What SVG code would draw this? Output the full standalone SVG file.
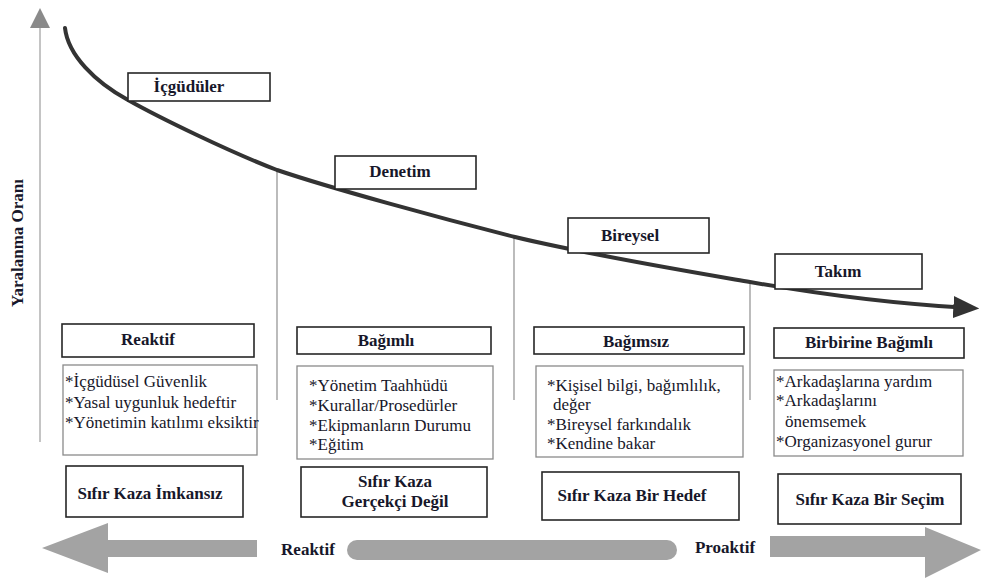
<svg xmlns="http://www.w3.org/2000/svg" width="981" height="579" viewBox="0 0 981 579">
<style>
  .bg{fill:#ffffff}
  .title{fill:#ffffff;stroke:#262626;stroke-width:1.6}
  .content{fill:#ffffff;stroke:#8a8a8a;stroke-width:1.3}
  .b{font-weight:bold;font-size:17px;fill:#17172a}
  .r{font-size:17px;fill:#17172a}
  .mid{text-anchor:middle}
  .div{stroke:#ababab;stroke-width:1.6;fill:none}
  .band{fill:#a3a3a3}
</style>
<defs>
  <marker id="curveHead" markerWidth="6.5" markerHeight="5.5" refX="4" refY="5" orient="auto" markerUnits="strokeWidth" viewBox="0 0 12 10" preserveAspectRatio="none">
    <path d="M0,0 L12,5 L0,10 Z" fill="#333333"/>
  </marker>
  <marker id="axisHead" markerWidth="10" markerHeight="10" refX="5" refY="5" orient="auto" viewBox="0 0 10 10">
    <path d="M0,0 L10,5 L0,10 Z" fill="#8a8a8a"/>
  </marker>
</defs>
<rect class="bg" x="0" y="0" width="981" height="579"/>

<g id="connectors">
  <line x1="40" y1="442" x2="40" y2="18" stroke="#c4c4c4" stroke-width="2" marker-end="url(#axisHead)"/>
  <line class="div" x1="277" y1="170" x2="277" y2="400"/>
  <line class="div" x1="514" y1="237" x2="514" y2="400"/>
  <line class="div" x1="750" y1="282" x2="750" y2="400"/>
  <path d="M65,28 C68,55 95,82 128,100 C160,118 230,152 277,170 C330,188 440,218 515,237 C590,255 680,270 750,282 C830,296 900,304 962,307.5" fill="none" stroke="#333333" stroke-width="4" stroke-linecap="round" marker-end="url(#curveHead)"/>
</g>

<g font-family="Liberation Serif, serif">
<g id="y-label">
  <text class="b mid" transform="translate(23,243) rotate(-90)">Yaralanma Oranı</text>
</g>

<g id="icguduler">
  <rect class="title" x="128" y="73" width="142" height="28"/>
  <text class="b mid" x="189" y="92">İçgüdüler</text>
</g>
<g id="denetim">
  <rect class="title" x="335" y="156" width="141" height="33"/>
  <text class="b mid" x="400" y="177">Denetim</text>
</g>
<g id="bireysel">
  <rect class="title" x="568" y="218" width="141" height="35"/>
  <text class="b mid" x="630" y="241">Bireysel</text>
</g>
<g id="takim">
  <rect class="title" x="775" y="254" width="147" height="35"/>
  <text class="b mid" x="838" y="277">Takım</text>
</g>

<g id="reaktif">
  <rect class="title" x="62" y="324" width="192" height="33"/>
  <text class="b mid" x="148" y="345">Reaktif</text>
</g>
<g id="reaktif-list">
  <rect class="content" x="63" y="365" width="194" height="90"/>
  <text class="r" x="65" y="387">*İçgüdüsel Güvenlik</text>
  <text class="r" x="65" y="408">*Yasal uygunluk hedeftir</text>
  <text class="r" x="65" y="428">*Yönetimin katılımı eksiktir</text>
</g>
<g id="reaktif-goal">
  <rect class="title" x="66" y="466" width="177" height="51"/>
  <text class="b mid" x="150" y="499">Sıfır Kaza İmkansız</text>
</g>

<g id="bagimli">
  <rect class="title" x="297" y="327" width="194" height="27"/>
  <text class="b mid" x="386" y="346">Bağımlı</text>
</g>
<g id="bagimli-list">
  <rect class="content" x="297" y="366" width="196" height="93"/>
  <text class="r" x="309" y="391">*Yönetim Taahhüdü</text>
  <text class="r" x="309" y="411">*Kurallar/Prosedürler</text>
  <text class="r" x="309" y="431">*Ekipmanların Durumu</text>
  <text class="r" x="309" y="450">*Eğitim</text>
</g>
<g id="bagimli-goal">
  <rect class="title" x="301" y="467" width="186" height="50"/>
  <text class="b mid" x="395" y="487">Sıfır Kaza</text>
  <text class="b mid" x="395" y="507">Gerçekçi Değil</text>
</g>

<g id="bagimsiz">
  <rect class="title" x="534" y="327" width="210" height="27"/>
  <text class="b mid" x="636" y="347">Bağımsız</text>
</g>
<g id="bagimsiz-list">
  <rect class="content" x="536" y="366" width="207" height="91"/>
  <text class="r" x="547" y="391">*Kişisel bilgi, bağımlılık,</text>
  <text class="r" x="553" y="410">değer</text>
  <text class="r" x="547" y="430">*Bireysel farkındalık</text>
  <text class="r" x="547" y="449">*Kendine bakar</text>
</g>
<g id="bagimsiz-goal">
  <rect class="title" x="542" y="472" width="197" height="48"/>
  <text class="b mid" x="632" y="501">Sıfır Kaza Bir Hedef</text>
</g>

<g id="birbirine">
  <rect class="title" x="774" y="328" width="190" height="30"/>
  <text class="b mid" x="869" y="348">Birbirine Bağımlı</text>
</g>
<g id="birbirine-list">
  <rect class="content" x="774" y="370" width="189" height="86"/>
  <text class="r" x="776" y="387">*Arkadaşlarına yardım</text>
  <text class="r" x="776" y="406">*Arkadaşlarını</text>
  <text class="r" x="785" y="427">önemsemek</text>
  <text class="r" x="776" y="447">*Organizasyonel gurur</text>
</g>
<g id="birbirine-goal">
  <rect class="title" x="778" y="474" width="183" height="50"/>
  <text class="b mid" x="870" y="505">Sıfır Kaza Bir Seçim</text>
</g>

<g id="scale">
  <path class="band" d="M42,548 L108,523 L108,540 L257,540 L257,557 L108,557 L108,573 Z"/>
  <rect class="band" x="347" y="540" width="330" height="20" rx="10"/>
  <path class="band" d="M770,536 L925,536 L925,527 L981,550 L925,578 L925,557 L770,557 Z"/>
  <text class="b mid" x="308" y="555">Reaktif</text>
  <text class="b mid" x="725" y="553">Proaktif</text>
</g>
</g>
</svg>
